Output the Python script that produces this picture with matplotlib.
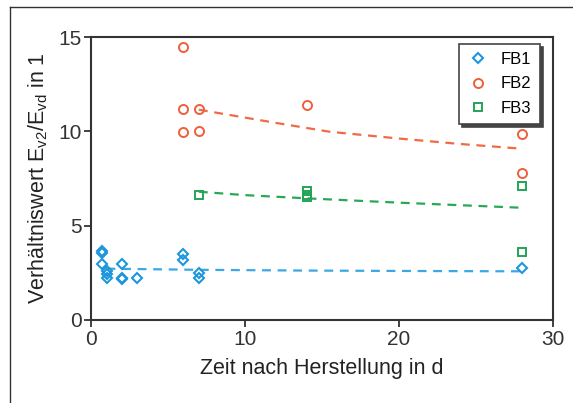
import matplotlib
matplotlib.use("Agg")
import matplotlib.pyplot as plt
from matplotlib.lines import Line2D

plt.rcParams["font.family"] = ["Liberation Sans", "DejaVu Sans"]

fb1_x = [0.7, 0.7, 0.7, 1.0, 1.0, 1.0, 2.0, 2.0, 2.0, 3.0, 6.0, 6.0, 7.0, 7.0, 28.0]
fb1_y = [3.65, 3.55, 2.95, 2.6, 2.45, 2.2, 2.95, 2.25, 2.15, 2.2, 3.5, 3.2, 2.5, 2.2, 2.75]
fb2_x = [6.0, 6.0, 6.0, 7.0, 7.0, 14.0, 28.0, 28.0]
fb2_y = [14.5, 11.2, 9.95, 11.2, 10.0, 11.4, 9.85, 7.8]
fb3_x = [7.0, 14.0, 14.0, 14.0, 28.0, 28.0]
fb3_y = [6.65, 6.85, 6.65, 6.5, 7.1, 3.6]

# Ausgleichskurven
fb1_fit_x = [1.0, 7.0, 14.0, 20.0, 28.0]
fb1_fit_y = [2.72, 2.66, 2.62, 2.6, 2.58]
fb2_fit_x = [7.0, 10.0, 12.0, 15.5, 20.0, 24.0, 28.0]
fb2_fit_y = [11.15, 10.73, 10.45, 9.98, 9.62, 9.33, 9.08]
fb3_fit_x = [7.0, 10.0, 14.0, 20.0, 28.0]
fb3_fit_y = [6.8, 6.62, 6.45, 6.22, 5.95]

c_blue = "#1e96dc"
c_red = "#ef5f3c"
c_green = "#23a455"

fig = plt.figure(figsize=(5.73, 4.03), dpi=100)
ax = fig.add_axes([0.159, 0.206, 0.806, 0.702])

# Rahmen um die Abbildung (oben und links)
fig.add_artist(Line2D([10 / 573, 1.0], [1 - 7 / 403, 1 - 7 / 403],
                      transform=fig.transFigure, color="#333333", lw=1.0))
fig.add_artist(Line2D([10 / 573, 10 / 573], [0.0, 1 - 7 / 403],
                      transform=fig.transFigure, color="#333333", lw=1.0))

ax.plot(fb1_fit_x, fb1_fit_y, color="#3aa8e6", lw=1.6, dashes=(4, 3))
ax.plot(fb2_fit_x, fb2_fit_y, color="#f06a45", lw=1.6, dashes=(4, 3))
ax.plot(fb3_fit_x, fb3_fit_y, color="#2aa85a", lw=1.6, dashes=(4, 3))

ax.plot(fb1_x, fb1_y, ls="none", marker="D", ms=4.8, mfc="none",
        mec=c_blue, mew=1.5, label="FB1")
ax.plot(fb2_x, fb2_y, ls="none", marker="o", ms=6.5, mfc="none",
        mec=c_red, mew=1.4, label="FB2")
ax.plot(fb3_x, fb3_y, ls="none", marker="s", ms=5.5, mfc="none",
        mec=c_green, mew=1.4, label="FB3")

ax.set_xlim(0, 30)
ax.set_ylim(0, 15)
ax.set_xticks([0, 10, 20, 30])
ax.set_yticks([0, 5, 10, 15])
ax.tick_params(direction="out", length=5, width=1.3, labelsize=15,
               colors="#333333", pad=2)
for sp in ax.spines.values():
    sp.set_color("#333333")
    sp.set_linewidth(1.5)

ax.set_xlabel("Zeit nach Herstellung in d", fontsize=15.5, color="#222222",
              labelpad=7)
ax.set_ylabel(r"Verhältniswert E$_\mathregular{v2}$/E$_\mathregular{vd}$ in 1",
              fontsize=15.5, color="#222222", labelpad=6)

leg = ax.legend(loc="upper right", bbox_to_anchor=(0.99, 1.005), fontsize=12,
                frameon=True, fancybox=False, shadow={"color": "#444444", "alpha": 1.0},
                edgecolor="#444444", handletextpad=0.8, handlelength=1.2,
                borderpad=0.5, labelspacing=0.55)
leg.get_frame().set_linewidth(1.2)

fig.savefig("out.png", dpi=100)
